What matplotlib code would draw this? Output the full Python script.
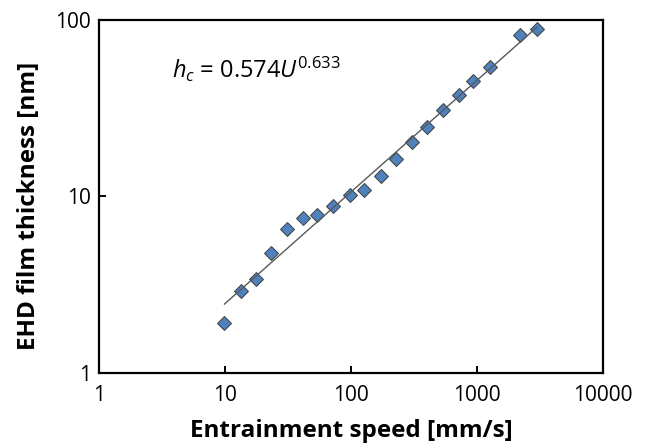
import numpy as np
import matplotlib
matplotlib.use("Agg")
import matplotlib.pyplot as plt

speed = [9.9, 13.3, 17.5, 23.2, 31.2, 41.4, 53.7, 72.4, 97.7, 128,
         172, 228, 305, 403, 534, 716, 934, 1269, 2193, 2994]
thickness = [1.91, 2.91, 3.40, 4.80, 6.54, 7.52, 7.89, 8.87, 10.2, 10.9,
             13.1, 16.3, 20.3, 24.8, 31.0, 37.4, 45.0, 54.2, 82.2, 88.9]

# power law fit from the chart annotation
fit_a = 0.574
fit_b = 0.633

xticks = [1, 10, 100, 1000, 10000]
yticks = [1, 10, 100]

plt.rcParams['font.family'] = ['Open Sans', 'DejaVu Sans']
plt.rcParams['mathtext.fontset'] = 'custom'
plt.rcParams['mathtext.rm'] = 'Open Sans'
plt.rcParams['mathtext.it'] = 'Open Sans:italic'

fig = plt.figure(figsize=(6.46, 4.45), dpi=100)
ax = fig.add_axes([0.1533, 0.1625, 0.78, 0.7925])

ax.plot(speed, thickness, linestyle='none', marker='D', markersize=7.3,
        markerfacecolor='#4F81BD', markeredgecolor='#3F3F3F',
        markeredgewidth=0.7, zorder=2)

u = np.logspace(np.log10(speed[0]), np.log10(speed[-1]), 100)
ax.plot(u, fit_a * u ** fit_b, color='#595959', linewidth=1.0, zorder=3)

ax.set_xscale('log')
ax.set_yscale('log')
ax.set_xlim(1, 10000)
ax.set_ylim(1, 100)
ax.set_xticks(xticks)
ax.set_xticklabels([str(t) for t in xticks])
ax.set_yticks(yticks)
ax.set_yticklabels([str(t) for t in yticks])
ax.minorticks_off()
ax.tick_params(direction='in', length=5, width=1.4, labelsize=15,
               colors='black')
ax.tick_params(axis='x', pad=9)
ax.tick_params(axis='y', pad=6)
for s in ax.spines.values():
    s.set_linewidth(1.6)

ax.set_xlabel('Entrainment speed [mm/s]', fontsize=17.5, fontweight='bold')
ax.set_ylabel('EHD film thickness [nm]', fontsize=17.5, fontweight='bold')
ax.xaxis.set_label_coords(0.5, -0.13)
ax.yaxis.set_label_coords(-0.115, 0.473)

ax.text(0.145, 0.835, r'$h_c$ = 0.574$U^{0.633}$', transform=ax.transAxes,
        fontsize=17, va='baseline')

fig.savefig('out.png', dpi=100)
